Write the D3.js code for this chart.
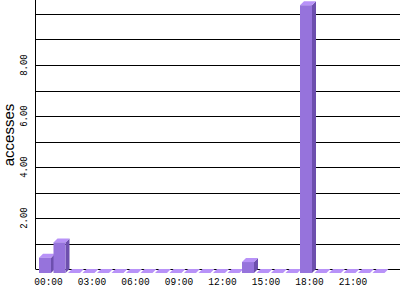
<!DOCTYPE html>
<html>
<head>
<meta charset="utf-8">
<script src="https://cdn.jsdelivr.net/npm/d3@7"></script>
<style>
  html, body { margin: 0; padding: 0; background: #fff; }
  svg { display: block; }
</style>
</head>
<body>
<div id="chart"></div>
<script>
'use strict';

// Hours of the day and average accesses per hour.
var hours    = d3.range(24);
var accesses = [0.6, 1.2, 0, 0, 0, 0, 0, 0, 0, 0, 0, 0,
                0, 0, 0.43, 0, 0, 0, 10.5, 0, 0, 0, 0, 0];
var xTickHours  = [0, 3, 6, 9, 12, 15, 18, 21];
var yTickLabels = [2, 4, 6, 8];
var gridValues  = d3.range(1, 11);

var width = 400, height = 300;
var left = 36, base = 269;
var slot = 14.5, barW = 12, depth = 4;

var svg = d3.select('#chart').append('svg')
            .attr('width', width)
            .attr('height', height);

var x = d3.scaleBand()
          .domain(hours)
          .range([left, left + slot * hours.length])
          .paddingInner(0).paddingOuter(0);

var y = d3.scaleLinear()
          .domain([0, base / 25.5])
          .range([base, 0]);

// Grid lines behind the bars.
svg.append('g').selectAll('line')
   .data(gridValues).enter().append('line')
   .attr('x1', left).attr('x2', width)
   .attr('y1', function(d) { return Math.round(y(d)) + 0.5; })
   .attr('y2', function(d) { return Math.round(y(d)) + 0.5; })
   .style('stroke', '#000')
   .style('stroke-width', 1);

// Axes.
svg.append('line')
   .attr('x1', left - 0.5).attr('x2', left - 0.5)
   .attr('y1', 0).attr('y2', base + 0.5)
   .style('stroke', '#000');
svg.append('line')
   .attr('x1', left).attr('x2', width)
   .attr('y1', base + 0.5).attr('y2', base + 0.5)
   .style('stroke', '#000');

// 3D bars: side, top, front.
var bars = svg.append('g').selectAll('g')
              .data(hours).enter().append('g');

function fx(d) { return x(d) + 3; }
function fy(d) { return y(accesses[d]) + depth; }

bars.append('path')
    .attr('d', function(d) {
      var x1 = fx(d) + barW, yt = fy(d), yb = base + depth;
      return 'M' + x1 + ',' + yt + 'L' + (x1 + depth) + ',' + (yt - depth) +
             'L' + (x1 + depth) + ',' + (yb - depth) + 'L' + x1 + ',' + yb + 'Z';
    })
    .style('fill', '#6d4fae');

bars.append('path')
    .attr('d', function(d) {
      var x0 = fx(d), yt = fy(d);
      return 'M' + x0 + ',' + yt + 'L' + (x0 + depth) + ',' + (yt - depth) +
             'L' + (x0 + barW + depth) + ',' + (yt - depth) +
             'L' + (x0 + barW) + ',' + yt + 'Z';
    })
    .style('fill', '#b892f8');

bars.append('rect')
    .attr('x', fx)
    .attr('y', fy)
    .attr('width', barW)
    .attr('height', function(d) { return base + depth - fy(d); })
    .style('fill', '#9673dc');

// X tick labels.
svg.append('g').selectAll('text')
   .data(xTickHours).enter().append('text')
   .attr('x', function(d) { return x(d) + 12.5; })
   .attr('y', 285)
   .attr('text-anchor', 'middle')
   .attr('textLength', 28.5)
   .attr('lengthAdjust', 'spacingAndGlyphs')
   .style('font-family', '"Liberation Mono", monospace')
   .style('font-size', '11px')
   .text(function(d) { return d3.format('02d')(d) + ':00'; });

// Y tick labels, rotated.
svg.append('g').selectAll('text')
   .data(yTickLabels).enter().append('text')
   .attr('transform', function(d) {
     return 'translate(27,' + y(d) + ') rotate(-90)';
   })
   .attr('text-anchor', 'middle')
   .attr('textLength', 21.5)
   .attr('lengthAdjust', 'spacingAndGlyphs')
   .style('font-family', '"Liberation Mono", monospace')
   .style('font-size', '11px')
   .text(d3.format('.2f'));

// Axis title.
svg.append('text')
   .attr('transform', 'translate(14,135) rotate(-90)')
   .attr('text-anchor', 'middle')
   .style('font-family', '"Liberation Sans", sans-serif')
   .style('font-size', '15px')
   .text('accesses');
</script>
</body>
</html>
